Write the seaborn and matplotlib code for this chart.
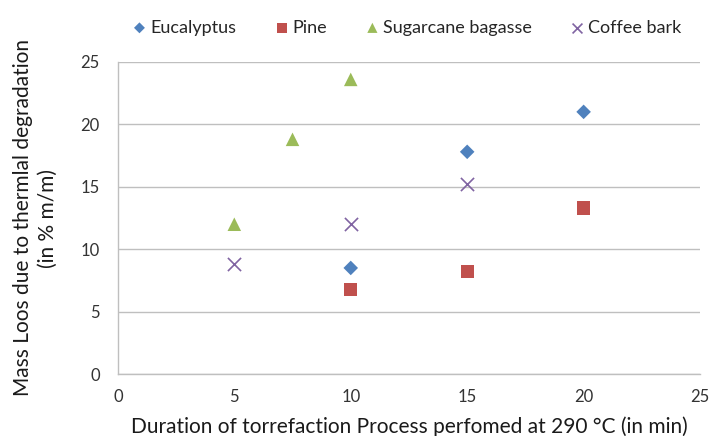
import matplotlib
matplotlib.use("Agg")
import matplotlib.pyplot as plt
import seaborn as sns
import pandas as pd

# Torrefaction mass-loss measurements
eucalyptus_t = [10, 15, 20]
eucalyptus_loss = [8.5, 17.8, 21.0]
pine_t = [10, 15, 20]
pine_loss = [6.8, 8.2, 13.3]
bagasse_t = [5, 7.5, 10]
bagasse_loss = [12.0, 18.8, 23.6]
coffee_t = [5, 10, 15]
coffee_loss = [8.8, 12.0, 15.2]

series_names = ["Eucalyptus", "Pine", "Sugarcane bagasse", "Coffee bark"]
x_ticks = [0, 5, 10, 15, 20, 25]
y_ticks = [0, 5, 10, 15, 20, 25]

frames = []
for name, t, v in zip(series_names,
                      [eucalyptus_t, pine_t, bagasse_t, coffee_t],
                      [eucalyptus_loss, pine_loss, bagasse_loss, coffee_loss]):
    frames.append(pd.DataFrame({"time": t, "loss": v, "material": name}))
df = pd.concat(frames, ignore_index=True)

sns.set_theme(style="white")
plt.rcParams["font.family"] = ["Lato", "DejaVu Sans"]

colors = {"Eucalyptus": "#4F81BD", "Pine": "#C0504D",
          "Sugarcane bagasse": "#9BBB59", "Coffee bark": "#8064A2"}
markers = {"Eucalyptus": "D", "Pine": "s",
           "Sugarcane bagasse": "^", "Coffee bark": "x"}
sizes = {"Eucalyptus": 55, "Pine": 90, "Sugarcane bagasse": 95, "Coffee bark": 90}

fig = plt.figure(figsize=(7.1, 4.36), dpi=100)
ax = fig.add_axes([0.166, 0.142, 0.820, 0.716])

for name in series_names:
    sub = df[df["material"] == name]
    kw = dict(marker=markers[name], s=sizes[name], color=colors[name], label=name)
    if markers[name] == "x":
        kw["linewidth"] = 1.2
    else:
        kw["edgecolor"] = "none"
    sns.scatterplot(data=sub, x="time", y="loss", ax=ax, **kw)

ax.set_xlim(0, 25)
ax.set_ylim(0, 25)
ax.set_xticks(x_ticks)
ax.set_yticks(y_ticks)
ax.tick_params(axis="x", length=0, labelsize=12, colors="#333333", pad=11)
ax.tick_params(axis="y", length=0, labelsize=12, colors="#333333", pad=13)
ax.grid(axis="y", color="#BFBFBF", linewidth=1)
ax.set_axisbelow(True)
for side in ["top", "right"]:
    ax.spines[side].set_visible(False)
for side in ["left", "bottom"]:
    ax.spines[side].set_color("#BFBFBF")
    ax.spines[side].set_linewidth(1)

ax.set_xlabel("Duration of torrefaction Process perfomed at 290 °C (in min)",
              fontsize=15, color="#1a1a1a", labelpad=8)
ax.set_ylabel("Mass Loos due to thermlal degradation\n(in % m/m)",
              fontsize=15, color="#1a1a1a", labelpad=16, linespacing=1.35)

handles, labels = ax.get_legend_handles_labels()
ax.legend(handles, labels, loc="center", bbox_to_anchor=(0.495, 1.11),
          ncol=4, frameon=False, fontsize=13, handletextpad=0.11,
          handlelength=1.0, columnspacing=2.0, markerscale=0.75)

fig.savefig("out.png", dpi=100)
